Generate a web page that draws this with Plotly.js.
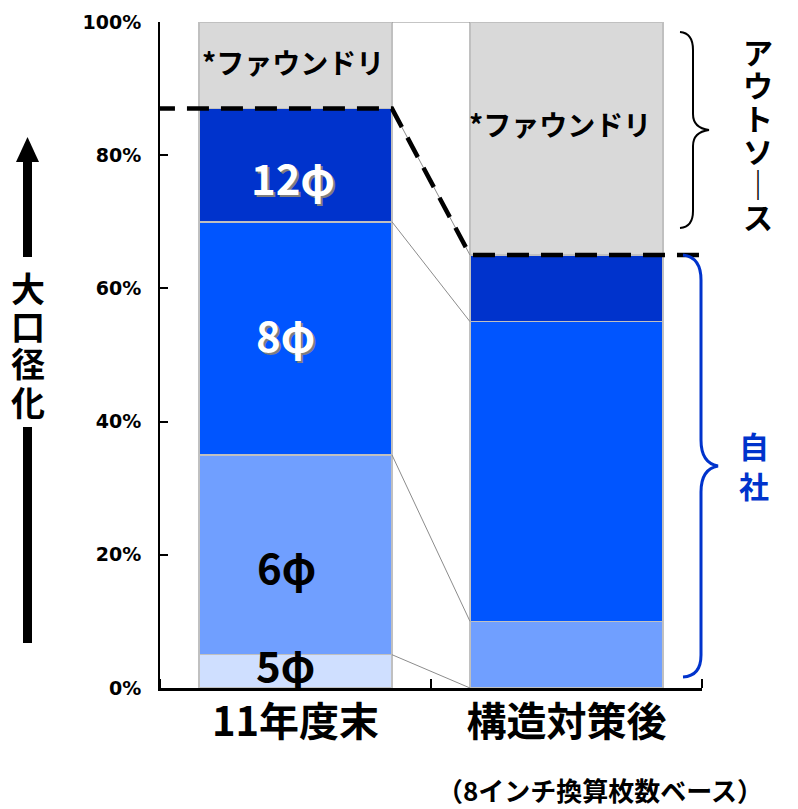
<!DOCTYPE html>
<html>
<head>
<meta charset="utf-8">
<script src="https://cdn.plot.ly/plotly-3.0.1.min.js"></script>
<style>
  html, body { margin: 0; padding: 0; background: #ffffff; }
  #chart { width: 798px; height: 809px; }
</style>
</head>
<body>
<div id="chart"></div>
<script>
// Wafer capacity mix by diameter (8-inch equivalent wafer count basis)
const categories = ['11年度末', '構造対策後'];
const seriesNames = ['5φ', '6φ', '8φ', '12φ', '*ファウンドリ'];
const phi5    = [5, 0];
const phi6    = [30, 10];
const phi8    = [35, 45];
const phi12   = [17, 10];
const foundry = [13, 35];
const yTickVals = [0, 20, 40, 60, 80, 100];
const yTickText = ['0%', '20%', '40%', '60%', '80%', '100%'];

const series = [phi5, phi6, phi8, phi12, foundry];
const colors = ['#cfdfff', '#709fff', '#0055ff', '#0033cc', '#d9d9d9'];
const xPos = categories.map((_, i) => i);
const BW = 0.712;                       // bar width in axis units
const JP = 'Noto Sans CJK JP, Noto Sans, sans-serif';

// plot-area pixel frame, used for the hand-drawn decorations
const L = 160, R = 702, T = 22, B = 688;
const px = x => (x - L) / (R - L);
const py = y => (B - y) / (B - T);

const traces = [];
series.forEach((vals, k) => {
  traces.push({
    type: 'bar', x: xPos, y: vals, name: seriesNames[k], width: BW,
    marker: { color: colors[k], line: { color: '#c0c0c0', width: 1.5 } },
    hoverinfo: 'skip'
  });
});

// cumulative tops of each stack
const cum = categories.map((_, i) => {
  let s = 0; return series.map(v => (s += v[i]));
});

// series lines joining matching segment tops of the two bars
const cx = [], cy = [];
series.forEach((_, k) => {
  cx.push(xPos[0] + BW / 2, xPos[1] - BW / 2, null);
  cy.push(cum[0][k], cum[1][k], null);
});
traces.push({
  type: 'scatter', mode: 'lines', x: cx, y: cy,
  line: { color: '#8c8c8c', width: 1 }, hoverinfo: 'skip', showlegend: false
});

// boundary between in-house production and outsourcing
const inHouse = cum.map(c => c[3]);
traces.push({
  type: 'scatter', mode: 'lines', cliponaxis: false,
  x: [-0.526, xPos[0] + BW / 2, xPos[1] - BW / 2, 1.854],
  y: [inHouse[0], inHouse[0], inHouse[1], inHouse[1]],
  line: { color: '#000000', width: 4.5, dash: '22px,12px' },
  hoverinfo: 'skip', showlegend: false
});

const annotations = [];
function label(text, x, y, size, color, shadow) {
  const base = { x: px(x), y: py(y), xref: 'paper', yref: 'paper', showarrow: false,
                 xanchor: 'center', yanchor: 'middle' };
  if (shadow) {
    annotations.push(Object.assign({}, base, { text, xshift: 2, yshift: -2,
      font: { family: JP, size, color: '#7f7f7f', weight: 'bold' } }));
  }
  annotations.push(Object.assign({}, base, { text,
    font: { family: JP, size, color, weight: 'bold' } }));
}
// segment labels
label(seriesNames[4], 293, 62, 28, '#000000');
label(seriesNames[4], 560, 124, 28, '#000000');
label(seriesNames[3], 293, 176, 42, '#ffffff', true);
label(seriesNames[2], 285, 333, 42, '#ffffff', true);
label(seriesNames[1], 286, 565, 42, '#000000');
label(seriesNames[0], 285, 663, 42, '#000000');

// vertical captions, one glyph per row
function vtext(str, cxp, cyTop, step, size, color) {
  [...str].forEach((ch, i) => label(ch, cxp, cyTop + i * step, size, color));
}
vtext('大口径化', 28, 287, 38, 34, '#000000');
vtext('アウトソ｜ス', 758, 51, 33, 30, '#000000');
vtext('自社', 754, 445, 40, 30, '#0033cc');

label('（8インチ換算枚数ベース）', 600, 789, 26, '#000000');

const shapes = [
  // arrow up beside the vertical caption
  { type: 'line', xref: 'paper', yref: 'paper', x0: px(27.5), x1: px(27.5), y0: py(160), y1: py(257),
    line: { color: '#000000', width: 9 } },
  { type: 'line', xref: 'paper', yref: 'paper', x0: px(27.5), x1: px(27.5), y0: py(427), y1: py(643),
    line: { color: '#000000', width: 9 } },
  { type: 'path', xref: 'paper', yref: 'paper', fillcolor: '#000000', line: { width: 0 },
    path: `M${px(16)},${py(162)} L${px(39)},${py(162)} L${px(27.5)},${py(137)} Z` },
  // brace for the outsourced share
  { type: 'path', xref: 'paper', yref: 'paper', line: { color: '#000000', width: 2 },
    path: `M${px(680)},${py(32)} Q${px(693)},${py(33)} ${px(693)},${py(50)} L${px(693)},${py(114)} ` +
          `Q${px(693)},${py(128)} ${px(709)},${py(130)} Q${px(693)},${py(132)} ${px(693)},${py(146)} ` +
          `L${px(693)},${py(211)} Q${px(693)},${py(227)} ${px(680)},${py(228)}` },
  // brace for the in-house share
  { type: 'path', xref: 'paper', yref: 'paper', line: { color: '#0033cc', width: 3 },
    path: `M${px(683)},${py(255)} Q${px(701)},${py(257)} ${px(701)},${py(280)} L${px(701)},${py(440)} ` +
          `Q${px(701)},${py(463)} ${px(718)},${py(466)} Q${px(701)},${py(469)} ${px(701)},${py(492)} ` +
          `L${px(701)},${py(655)} Q${px(701)},${py(676)} ${px(683)},${py(677)}` }
];

const layout = {
  width: 798, height: 809,
  margin: { l: L, r: 798 - R, t: T, b: 809 - B, pad: 0 },
  paper_bgcolor: '#ffffff', plot_bgcolor: '#ffffff',
  barmode: 'stack', showlegend: false,
  xaxis: {
    range: [-0.5, 1.5], tickvals: xPos, ticktext: categories, ticks: '',
    showgrid: false, zeroline: false, showline: true, linecolor: '#000000', linewidth: 3,
    tickfont: { family: JP, size: 40, color: '#000000', weight: 'bold' },
    ticklabelstandoff: -3,
    minor: { tickvals: [-0.5, 0.5, 1.5], ticks: 'inside', ticklen: 9, tickwidth: 2, tickcolor: '#000000', showgrid: false }
  },
  yaxis: {
    range: [0, 100], tickvals: yTickVals, ticktext: yTickText,
    ticks: 'inside', ticklen: 8, tickwidth: 2, tickcolor: '#000000',
    showgrid: false, zeroline: false, showline: true, linecolor: '#000000', linewidth: 2,
    tickfont: { family: 'DejaVu Sans, sans-serif', size: 19, color: '#000000', weight: 'bold' },
    ticklabelstandoff: 13
  },
  annotations, shapes
};

Plotly.newPlot('chart', traces, layout, { staticPlot: true, displayModeBar: false });
</script>
</body>
</html>
